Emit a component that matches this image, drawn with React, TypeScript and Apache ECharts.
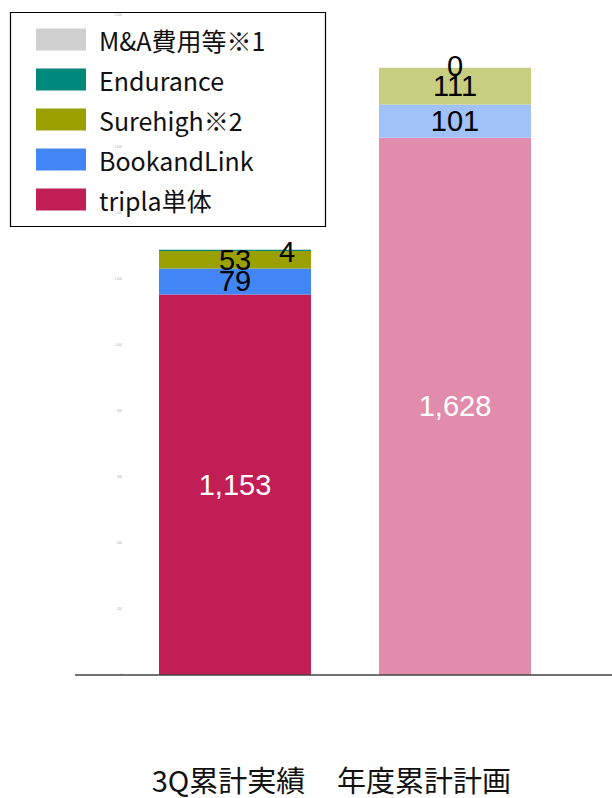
import React, { useEffect, useRef } from "react";
import * as echarts from "echarts";

const categories = ["3Q累計実績", "年度累計計画"];
const triplaValues = [1153, 1628];
const bookandLinkValues = [79, 101];
const surehighValues = [53, 111];
const enduranceValues = [4, 0];
const maValues: (number | null)[] = [null, null];
const yTicks = { min: 0, max: 2000, interval: 200 };

const seriesNames = ["tripla単体", "BookandLink", "Surehigh※2", "Endurance", "M&A費用等※1"];
const actualColors = ["#C21E56", "#4285F4", "#99A000", "#00897B", "#D0D0D0"];
const planColors = ["#E08CAA", "#A0C2F8", "#C8CE80", "#7FC4BD", "#E8E8E8"];

export default function App() {
  const ref = useRef<HTMLDivElement>(null);
  useEffect(() => {
    if (!ref.current) return;
    const chart = echarts.init(ref.current, null, { renderer: "svg" });
    const allValues = [triplaValues, bookandLinkValues, surehighValues, enduranceValues, maValues];
    const fmt = (p: any) => (p.value == null ? "" : Number(p.value).toLocaleString("en-US"));
    const series = allValues.map((vals, si) => ({
      name: seriesNames[si],
      type: "bar",
      stack: "total",
      barWidth: 152,
      itemStyle: { color: actualColors[si] },
      data: vals.map((v, i) => ({
        value: v,
        itemStyle: { color: i === 0 ? actualColors[si] : planColors[si] },
      })),
      label: {
        show: si < 4,
        position: "inside",
        formatter: fmt,
        color: si === 0 ? "#ffffff" : "#000000",
        fontSize: 29,
        fontFamily: "Liberation Sans, Arial, sans-serif",
      },
      labelLayout: si === 3 ? (params: any) => (params.dataIndex === 0 ? { dx: 52, dy: 2 } : { dy: -2 }) : undefined,
    }));
    chart.setOption({
      animation: false,
      grid: { left: 125, right: 47, top: 15, bottom: 123 },
      xAxis: {
        type: "category",
        data: categories.map((c, i) => ({
          value: c,
          textStyle: { padding: [0, i === 0 ? 13 : 62, 0, 0] },
        })),
        axisLine: { show: false },
        axisTick: { show: false },
        axisLabel: {
          interval: 0,
          hideOverlap: false,
          margin: 90,
          fontSize: 29,
          lineHeight: 28,
          color: "#111",
          fontFamily: "Noto Sans CJK JP, sans-serif",
        },
      },
      yAxis: {
        type: "value",
        min: yTicks.min,
        max: yTicks.max,
        interval: yTicks.interval,
        splitLine: { show: false },
        axisLine: { show: false },
        axisTick: { show: false },
        axisLabel: { fontSize: 3, color: "#aaa", margin: 3 },
      },
      legend: {
        orient: "vertical",
        left: 31,
        top: 22,
        itemWidth: 50,
        itemHeight: 22,
        itemGap: 15,
        icon: "rect",
        data: [...seriesNames].reverse(),
        textStyle: {
          fontSize: 25,
          lineHeight: 25,
          color: "#111",
          fontFamily: "Noto Sans CJK JP, sans-serif",
          padding: [0, 0, 0, 8],
        },
      },
      graphic: [
        {
          type: "rect",
          left: 8,
          top: 10,
          shape: { width: 315, height: 214 },
          style: { fill: "none", stroke: "#000", lineWidth: 1.2 },
          z: 10,
        },
        {
          type: "line",
          shape: { x1: 75, y1: 675, x2: 612, y2: 675 },
          style: { stroke: "#444", lineWidth: 1.5 },
          z: 10,
        },
      ],
      series,
    });
    return () => chart.dispose();
  }, []);
  return <div ref={ref} style={{ width: 612, height: 798, position: "absolute", left: 0, top: 0 }} />;
}
